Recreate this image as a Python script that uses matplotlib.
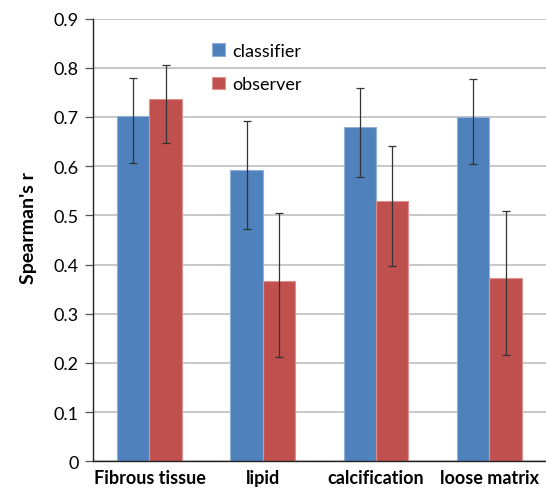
import matplotlib
matplotlib.use("Agg")
import matplotlib.pyplot as plt
import numpy as np

plt.rcParams['font.family'] = ['Lato', 'DejaVu Sans']

categories = ["Fibrous tissue", "lipid", "calcification", "loose matrix"]
classifier = [0.702, 0.593, 0.679, 0.700]
classifier_hi = [0.780, 0.691, 0.759, 0.778]
classifier_lo = [0.607, 0.473, 0.577, 0.605]
observer = [0.737, 0.367, 0.530, 0.372]
observer_hi = [0.805, 0.504, 0.642, 0.508]
observer_lo = [0.648, 0.212, 0.398, 0.217]
yticks = [0, 0.1, 0.2, 0.3, 0.4, 0.5, 0.6, 0.7, 0.8, 0.9]
ytick_labels = ["0", "0.1", "0.2", "0.3", "0.4", "0.5", "0.6", "0.7", "0.8", "0.9"]

W, H = 546, 489
fig = plt.figure(figsize=(W / 100, H / 100), dpi=100)
ax = fig.add_axes([0.170, 0.0544, 0.830, 0.9056])

x = np.arange(len(categories))
w = 1 / 3.5
blue = "#4F81BD"
red = "#C0504D"

c = np.array(classifier)
o = np.array(observer)
cerr = [c - np.array(classifier_lo), np.array(classifier_hi) - c]
oerr = [o - np.array(observer_lo), np.array(observer_hi) - o]

ax.bar(x - w / 2, c, w, color=blue, edgecolor="#8FB0D8", linewidth=0.8, label="classifier", zorder=2)
ax.bar(x + w / 2, o, w, color=red, edgecolor="#DE9290", linewidth=0.8, label="observer", zorder=2)
ax.errorbar(x - w / 2, c, yerr=cerr, fmt="none", ecolor="#333333", elinewidth=0.9, capsize=2.8, capthick=0.9, zorder=3)
ax.errorbar(x + w / 2, o, yerr=oerr, fmt="none", ecolor="#333333", elinewidth=0.9, capsize=2.8, capthick=0.9, zorder=3)

ax.set_xlim(-0.5, len(categories) - 0.5)
ax.set_ylim(0, 0.9)
ax.set_yticks(yticks)
ax.set_yticklabels(ytick_labels, fontsize=13)
ax.set_xticks(x)
ax.set_xticklabels(categories, fontsize=13, fontweight="bold")
ax.tick_params(axis="x", length=0, pad=5.5)
ax.tick_params(axis="y", length=6, width=0.9, color="#555555", pad=4)
ax.yaxis.grid(True, color="#BFBFBF", linewidth=1.2, zorder=0)
ax.set_axisbelow(True)
for s in ["top", "right"]:
    ax.spines[s].set_visible(False)
ax.spines["left"].set_color("#222222")
ax.spines["bottom"].set_color("#222222")
ax.spines["left"].set_linewidth(1.0)
ax.spines["bottom"].set_linewidth(1.0)

ax.set_ylabel("Spearman's r", fontsize=14, fontweight="bold")
ax.yaxis.set_label_coords(37 / W, 1 - 228 / H, transform=fig.transFigure)

leg = fig.legend(loc="upper left", bbox_to_anchor=(212 / W, 1 - 44 / H), frameon=False, fontsize=13,
                 handlelength=0.7, handleheight=0.7, handletextpad=0.4, labelspacing=0.95,
                 borderpad=0, borderaxespad=0)

fig.savefig("out.png", dpi=100)
